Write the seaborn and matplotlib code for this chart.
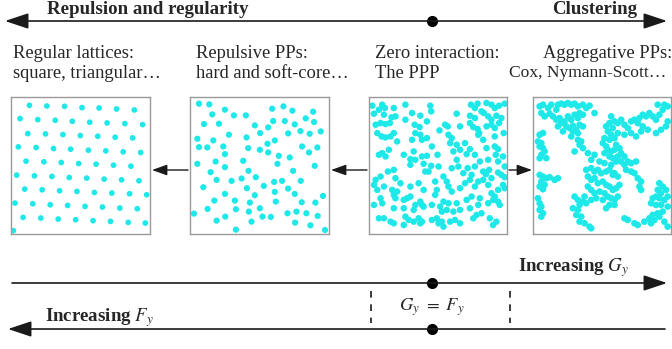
import matplotlib
matplotlib.use("Agg")
import matplotlib.pyplot as plt
import seaborn as sns
import pandas as pd

sns.set_theme(style="white")
plt.rcParams["font.family"] = ["Liberation Serif", "DejaVu Serif"]
plt.rcParams["mathtext.fontset"] = "stix"

# ---------------- data ----------------
top_left_label = "Repulsion and regularity"
top_right_label = "Clustering"
panel_titles = [
    ("Regular lattices:", "square, triangular\u2026"),
    ("Repulsive PPs:", "hard and soft-core\u2026"),
    ("Zero interaction:", "The PPP"),
    ("Aggregative PPs:", "Cox, Nymann-Scott\u2026"),
]
bottom_top_label = r"Increasing $G_y$"
bottom_low_label = r"Increasing $F_y$"
middle_label = r"$G_y\ =\ F_y$"

# panel 1: regular (triangular) lattice
lat_x = [90, 142, 195, 247, 298, 350, 403,
         62, 115, 167, 218, 270, 322, 375, 428,
         85, 138, 190, 242, 294, 346, 398,
         57, 110, 162, 213, 266, 318, 370, 422,
         80, 133, 185, 237, 289, 341, 393,
         52, 105, 157, 209, 261, 313, 365, 417,
         76, 128, 180, 232, 284, 336, 389, 440,
         47, 100, 152, 204, 256, 308, 360, 412,
         71, 124, 176, 228, 280, 332, 385, 436,
         42]
lat_y = [45, 47, 48, 52, 53, 56, 59,
         85, 88, 90, 93, 96, 98, 100, 103,
         130, 131, 133, 136, 138, 141, 143,
         170, 172, 175, 177, 180, 182, 185, 187,
         213, 215, 217, 220, 222, 225, 228,
         255, 257, 259, 262, 264, 267, 269, 272,
         297, 299, 302, 304, 307, 309, 311, 314,
         339, 341, 344, 346, 349, 351, 354, 356,
         382, 384, 387, 389, 392, 394, 397, 399,
         422]

# panel 2: repulsive point process
rep_pts = [(57,42),(88,44),(135,60),(97,74),(162,77),(198,77),(277,57),(311,50),(338,63),(400,66),
           (72,103),(117,102),(225,107),(265,113),(280,94),(315,94),(345,104),(378,86),(403,97),
           (147,135),(200,143),(241,130),(325,131),(362,124),(390,132),(423,125),
           (52,147),(100,152),(263,162),(285,152),(57,172),(82,173),(130,170),(205,175),(240,180),
           (265,188),(367,170),(413,173),
           (135,193),(297,198),(330,203),(388,188),
           (52,222),(107,215),(190,213),(293,222),(405,228),
           (135,232),(92,247),(206,243),(340,243),
           (110,270),(155,273),(185,266),(228,262),(283,276),(307,273),(363,273),
           (70,292),(201,295),(252,288),(325,296),(285,306),
           (135,312),(225,316),(345,312),(430,318),
           (103,332),(165,332),(210,338),(288,335),(366,337),(407,338),
           (83,357),(168,358),(240,355),
           (42,371),(207,365),(323,370),(350,365),(380,370),(136,380),(248,380),(273,381),(414,378),
           (110,392),(215,395),(346,398),(392,406),
           (168,419),(436,420)]
rep_x = [p[0] for p in rep_pts]
rep_y = [p[1] for p in rep_pts]

# panel 3: Poisson point process
ppp_pts = [(35,48),(40,72),(55,60),(65,45),(73,55),(70,75),(100,55),(105,80),(135,45),(155,70),
           (180,78),(210,48),(213,65),(290,72),(333,45),(345,55),(353,42),(380,40),(395,45),(405,55),
           (418,48),(435,42),(330,78),(345,85),(365,65),(372,70),(385,80),(395,90),(410,78),(425,85),
           (45,105),(60,100),(75,103),(88,100),(93,83),(50,130),(63,140),(75,143),(90,140),(100,130),
           (135,90),(163,105),(178,112),(200,95),(238,122),(255,105),(263,110),(265,135),(300,110),
           (330,100),(340,112),(353,118),(358,130),(380,110),(395,105),(405,115),(418,100),(432,130),
           (110,155),(155,150),(165,130),(180,135),(185,150),(200,145),(215,170),(275,145),(270,160),
           (290,165),(300,180),(315,160),(330,178),(370,150),(380,175),(405,170),(415,178),(355,135),
           (405,140),(65,190),(85,180),(55,195),(75,200),(130,195),(160,185),(165,210),(150,208),
           (185,200),(200,198),(213,228),(232,195),(280,185),(290,210),(320,193),(345,195),(385,210),
           (408,195),(430,200),(415,215),(360,215),
           (45,270),(60,260),(82,245),(100,240),(105,265),(120,280),(150,225),(190,222),(195,245),
           (205,245),(235,230),(250,260),(275,235),(295,230),(310,250),(323,235),(335,255),(345,230),
           (370,245),(378,253),(388,240),(395,265),(415,248),(425,255),(435,230),(435,262),
           (40,285),(50,300),(70,290),(95,300),(100,315),(105,325),(110,305),(150,290),(175,280),
           (190,300),(225,275),(230,300),(260,275),(265,290),(275,305),(300,295),(315,280),(330,270),
           (345,290),(355,275),(370,270),(385,285),(395,310),(405,320),(415,300),(430,285),(435,295),
           (60,325),(130,330),(140,325),(150,320),(165,345),(180,335),(190,350),(215,345),(225,315),
           (250,335),(265,340),(290,340),(320,330),(335,320),(360,325),(400,330),(415,335),
           (40,345),(65,340),(100,355),(130,355),(160,360),(185,345),(240,350),(245,365),(260,360),
           (280,365),(300,360),(330,355),(355,345),(385,340),(420,345),
           (55,385),(70,385),(90,395),(100,400),(135,380),(145,390),(160,395),(175,385),(185,395),
           (215,390),(230,385),(235,400),(245,395),(250,410),(270,395),(285,390),(300,400),(340,385),
           (350,375),(365,370),(390,385),(400,405),(410,395),(130,405),(180,400)]
ppp_x = [p[0] for p in ppp_pts]
ppp_y = [p[1] for p in ppp_pts]

# panel 4: aggregative (clustered) point process
agg_pts = [(45,50),(55,45),(70,55),(80,45),(95,60),(100,45),(110,42),(120,45),(130,40),(140,45),
           (150,42),(160,50),(175,45),(185,55),(195,48),(210,70),(50,70),(60,80),(75,72),(85,80),
           (95,90),(105,85),(110,100),(120,95),(130,80),(140,90),(150,75),(160,85),(165,70),(175,75),
           (125,110),(135,115),(145,108),(155,120),(165,105),(175,110),(100,110),(115,125),(145,125),
           (160,130),(140,140),(160,150),(170,155),(165,165),(175,175),(150,185),(190,190),
           (45,135),(55,130),(40,155),(50,160),(45,170),(55,175),(60,185),(50,195),(65,205),(45,205),
           (45,255),(55,260),(65,265),(75,262),(90,270),(100,265),(50,275),(60,285),(45,290),(55,298),
           (40,325),(45,340),(50,350),(45,360),(55,370),(50,380),
           (260,80),(270,95),(255,100),(245,110),(265,115),(280,100),(290,90),(300,105),(310,115),
           (320,95),(330,90),(340,100),(345,85),(355,75),(365,80),(375,70),(385,80),(395,90),(405,75),
           (415,60),(400,45),(420,45),(430,50),(430,95),(425,110),(410,120),(395,130),(370,120),
           (355,110),(350,125),(335,140),(320,130),(300,135),(280,130),(260,135),(250,125),(240,145),
           (255,150),(270,145),
           (235,160),(245,170),(250,180),(260,185),(270,180),(275,165),(285,175),(240,190),(255,200),
           (265,205),(280,200),(290,190),(300,200),(225,215),(240,220),(260,225),(275,215),(200,210),
           (210,195),
           (185,240),(200,235),(210,245),(220,240),(230,250),(245,245),(255,240),(265,255),(270,250),
           (280,260),(190,260),(200,270),(210,265),(220,280),(235,275),(245,285),(255,290),(265,300),
           (275,295),(285,285),(190,290),(200,300),(210,310),(225,305),(240,310),(250,320),(260,325),
           (270,330),(280,320),(180,320),(175,335),(165,345),(185,340),(200,330),(215,325),(235,330),
           (255,345),(270,345),(245,355),
           (290,215),(300,225),(310,215),(320,220),(335,215),(305,240),(320,245),(330,250),(340,265),
           (350,275),(345,290),(350,300),
           (150,320),(160,330),(145,355),(160,360),(155,375),(170,380),(165,395),(180,400),(195,410),
           (200,415),
           (405,280),(415,290),(425,300),(400,300),(410,310),(395,320),(405,325),(420,330),(430,320),
           (385,325),(380,340),(395,345),(410,345),(430,350),(415,365),(400,370),(385,375),(375,385),
           (390,390),(405,380),(420,395),(430,410),(380,400),(360,395),(340,405),(330,400),(310,390),
           (300,385)]
agg_x = [p[0] for p in agg_pts]
agg_y = [p[1] for p in agg_pts]

# ---------------- figure ----------------
W, H = 672, 349
fig = plt.figure(figsize=(W / 100, H / 100), dpi=100)
bg = fig.add_axes([0, 0, 1, 1])
bg.set_xlim(0, W)
bg.set_ylim(H, 0)
bg.axis("off")

LINE = "#1a1a1a"
DOT = "#1ee8e8"


def fig_rect(x0, y0, x1, y1):
    return [x0 / W, 1 - y1 / H, (x1 - x0) / W, (y1 - y0) / H]


panels = [
    (lat_x, lat_y, (11, 97, 150, 234), (35, 450, 20, 432), 17),
    (rep_x, rep_y, (190, 97, 329, 234), (30, 448, 22, 432), 20),
    (ppp_x, ppp_y, (369, 97, 507, 234), (25, 442, 22, 432), 22),
    (agg_x, agg_y, (533, 97, 671, 234), (25, 440, 22, 432), 23),
]
for xs, ys, rect, lims, s in panels:
    ax = fig.add_axes(fig_rect(*rect))
    df = pd.DataFrame({"x": xs, "y": ys})
    sns.scatterplot(data=df, x="x", y="y", ax=ax, color=DOT, s=s,
                    linewidth=0, edgecolor="none", legend=False)
    ax.set_xlim(lims[0], lims[1])
    ax.set_ylim(lims[3], lims[2])
    ax.set_xticks([])
    ax.set_yticks([])
    ax.set_xlabel("")
    ax.set_ylabel("")
    for sp in ax.spines.values():
        sp.set_visible(True)
        sp.set_color("#9a9a9a")
        sp.set_linewidth(1.0)

# ---- top axis ----
ahead = "<|-|>,head_length=0.9,head_width=0.3"
bg.annotate("", xy=(5, 21), xytext=(667, 21),
            arrowprops=dict(arrowstyle=ahead, color=LINE, lw=1.2, mutation_scale=16,
                            shrinkA=0, shrinkB=0))
bg.plot([432], [21], "o", color="black", ms=7)
bg.text(47, 10, top_left_label, fontsize=13.6, fontweight="bold", va="center", ha="left")
bg.text(552, 10, top_right_label, fontsize=13.6, fontweight="bold", va="center", ha="left")

# ---- panel titles ----
title_x = [13, 196, 375, 543]
line2_x = [13, 196, 375, 509]
line2_size = [13.3, 13.3, 13.3, 12.6]
for (l1, l2), x1, x2, fs2 in zip(panel_titles, title_x, line2_x, line2_size):
    bg.text(x1, 53, l1, fontsize=13.3, va="center", ha="left")
    bg.text(x2, 73, l2, fontsize=fs2, va="center", ha="left")

# ---- arrows between panels ----
small = "-|>,head_length=0.7,head_width=0.25"
for x_from, x_to in [(188, 152), (367, 331), (509, 532)]:
    bg.annotate("", xy=(x_to, 170), xytext=(x_from, 170),
                arrowprops=dict(arrowstyle=small, color=LINE, lw=1.0, mutation_scale=13,
                                shrinkA=0, shrinkB=0))

# ---- bottom axes ----
right_head = "-|>,head_length=0.9,head_width=0.3"
bg.annotate("", xy=(667, 283), xytext=(12, 283),
            arrowprops=dict(arrowstyle=right_head, color=LINE, lw=1.2, mutation_scale=16,
                            shrinkA=0, shrinkB=0))
bg.annotate("", xy=(8, 329), xytext=(665, 329),
            arrowprops=dict(arrowstyle=right_head, color=LINE, lw=1.2, mutation_scale=16,
                            shrinkA=0, shrinkB=0))
bg.plot([432, 432], [283, 329], "o", color="black", ms=7, linestyle="none")
bg.text(518, 268, bottom_top_label, fontsize=13.6, fontweight="bold", va="center", ha="left")
bg.text(45, 318, bottom_low_label, fontsize=13.6, fontweight="bold", va="center", ha="left")
for xd in [371, 510]:
    bg.plot([xd, xd], [291, 323], color=LINE, lw=1.2, linestyle=(0, (4, 4)))
bg.text(432, 307, middle_label, fontsize=13.3, va="center", ha="center")

fig.savefig("out.png", dpi=100)
